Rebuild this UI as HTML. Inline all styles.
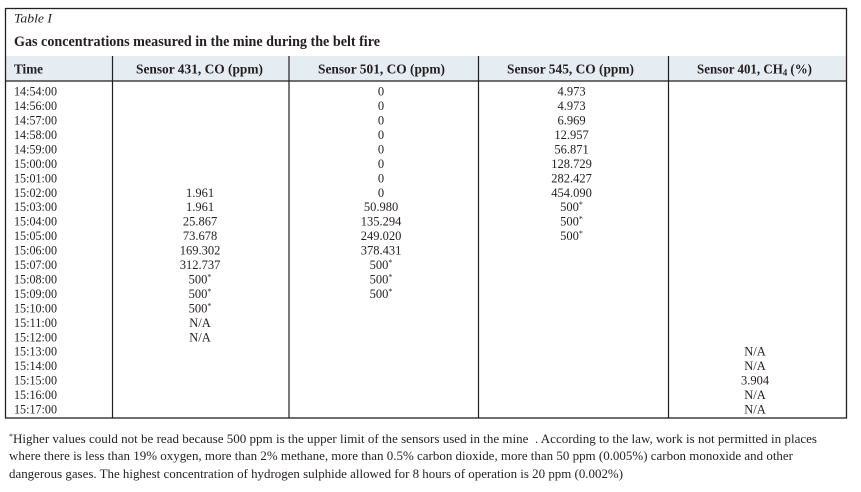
<!DOCTYPE html>
<html><head><meta charset="utf-8"><style>
html,body{margin:0;padding:0;background:#fff;}
svg{display:block;}
text{font-family:"Liberation Serif",serif;fill:#231f20;}
.d{font-size:12.5px;}
.h{font-size:13.5px;font-weight:bold;}
.f{font-size:13px;white-space:pre;}
</style></head><body>
<svg width="861" height="492" viewBox="0 0 861 492" xmlns="http://www.w3.org/2000/svg">
<rect x="0" y="0" width="861" height="492" fill="#fff"/>
<rect x="5" y="56" width="841" height="25" fill="#e5ecf2"/>
<rect x="5.5" y="8.5" width="841" height="409.5" fill="none" stroke="#231f20" stroke-width="1.3"/>
<line x1="5" y1="81" x2="846" y2="81" stroke="#231f20" stroke-width="1.3"/>
<g stroke="#231f20" stroke-width="1.2">
<line x1="112.5" y1="56" x2="112.5" y2="418"/>
<line x1="289" y1="56" x2="289" y2="418"/>
<line x1="478.5" y1="56" x2="478.5" y2="418"/>
<line x1="668.5" y1="56" x2="668.5" y2="418"/>
</g>
<text x="14" y="22.5" style="font-size:13px;font-style:italic" textLength="38" lengthAdjust="spacingAndGlyphs">Table I</text>
<text x="14" y="46" style="font-size:15px;font-weight:bold" textLength="366" lengthAdjust="spacingAndGlyphs">Gas concentrations measured in the mine during the belt fire</text>
<text class="h" x="14" y="73.5" textLength="29" lengthAdjust="spacingAndGlyphs">Time</text>
<text class="h" x="136" y="73.5" textLength="127" lengthAdjust="spacingAndGlyphs">Sensor 431, CO (ppm)</text>
<text class="h" x="318" y="73.5" textLength="127" lengthAdjust="spacingAndGlyphs">Sensor 501, CO (ppm)</text>
<text class="h" x="507" y="73.5" textLength="127" lengthAdjust="spacingAndGlyphs">Sensor 545, CO (ppm)</text>
<text class="h" x="697" y="73.5" textLength="115" lengthAdjust="spacingAndGlyphs">Sensor 401, CH<tspan style="font-size:9px" dy="2">4</tspan><tspan dy="-2"> (%)</tspan></text>

<g class="d">
<text x="14" y="95.6" textLength="43" lengthAdjust="spacingAndGlyphs">14:54:00</text>
<text x="14" y="110.05" textLength="43" lengthAdjust="spacingAndGlyphs">14:56:00</text>
<text x="14" y="124.5" textLength="43" lengthAdjust="spacingAndGlyphs">14:57:00</text>
<text x="14" y="138.95" textLength="43" lengthAdjust="spacingAndGlyphs">14:58:00</text>
<text x="14" y="153.4" textLength="43" lengthAdjust="spacingAndGlyphs">14:59:00</text>
<text x="14" y="167.85" textLength="43" lengthAdjust="spacingAndGlyphs">15:00:00</text>
<text x="14" y="182.3" textLength="43" lengthAdjust="spacingAndGlyphs">15:01:00</text>
<text x="14" y="196.75" textLength="43" lengthAdjust="spacingAndGlyphs">15:02:00</text>
<text x="14" y="211.2" textLength="43" lengthAdjust="spacingAndGlyphs">15:03:00</text>
<text x="14" y="225.65" textLength="43" lengthAdjust="spacingAndGlyphs">15:04:00</text>
<text x="14" y="240.1" textLength="43" lengthAdjust="spacingAndGlyphs">15:05:00</text>
<text x="14" y="254.55" textLength="43" lengthAdjust="spacingAndGlyphs">15:06:00</text>
<text x="14" y="269" textLength="43" lengthAdjust="spacingAndGlyphs">15:07:00</text>
<text x="14" y="283.45" textLength="43" lengthAdjust="spacingAndGlyphs">15:08:00</text>
<text x="14" y="297.9" textLength="43" lengthAdjust="spacingAndGlyphs">15:09:00</text>
<text x="14" y="312.35" textLength="43" lengthAdjust="spacingAndGlyphs">15:10:00</text>
<text x="14" y="326.8" textLength="43" lengthAdjust="spacingAndGlyphs">15:11:00</text>
<text x="14" y="341.25" textLength="43" lengthAdjust="spacingAndGlyphs">15:12:00</text>
<text x="14" y="355.7" textLength="43" lengthAdjust="spacingAndGlyphs">15:13:00</text>
<text x="14" y="370.15" textLength="43" lengthAdjust="spacingAndGlyphs">15:14:00</text>
<text x="14" y="384.6" textLength="43" lengthAdjust="spacingAndGlyphs">15:15:00</text>
<text x="14" y="399.05" textLength="43" lengthAdjust="spacingAndGlyphs">15:16:00</text>
<text x="14" y="413.5" textLength="43" lengthAdjust="spacingAndGlyphs">15:17:00</text>
</g>

<g class="d" text-anchor="middle">
<text x="200" y="196.75">1.961</text>
<text x="200" y="211.2">1.961</text>
<text x="200" y="225.65">25.867</text>
<text x="200" y="240.1">73.678</text>
<text x="200" y="254.55">169.302</text>
<text x="200" y="269">312.737</text>
<text x="200" y="283.45">500<tspan style="font-size:8px" dy="-4">*</tspan></text>
<text x="200" y="297.9">500<tspan style="font-size:8px" dy="-4">*</tspan></text>
<text x="200" y="312.35">500<tspan style="font-size:8px" dy="-4">*</tspan></text>
<text x="200" y="326.8">N/A</text>
<text x="200" y="341.25">N/A</text>
<text x="381" y="95.6">0</text>
<text x="381" y="110.05">0</text>
<text x="381" y="124.5">0</text>
<text x="381" y="138.95">0</text>
<text x="381" y="153.4">0</text>
<text x="381" y="167.85">0</text>
<text x="381" y="182.3">0</text>
<text x="381" y="196.75">0</text>
<text x="381" y="211.2">50.980</text>
<text x="381" y="225.65">135.294</text>
<text x="381" y="240.1">249.020</text>
<text x="381" y="254.55">378.431</text>
<text x="381" y="269">500<tspan style="font-size:8px" dy="-4">*</tspan></text>
<text x="381" y="283.45">500<tspan style="font-size:8px" dy="-4">*</tspan></text>
<text x="381" y="297.9">500<tspan style="font-size:8px" dy="-4">*</tspan></text>
<text x="571.5" y="95.6">4.973</text>
<text x="571.5" y="110.05">4.973</text>
<text x="571.5" y="124.5">6.969</text>
<text x="571.5" y="138.95">12.957</text>
<text x="571.5" y="153.4">56.871</text>
<text x="571.5" y="167.85">128.729</text>
<text x="571.5" y="182.3">282.427</text>
<text x="571.5" y="196.75">454.090</text>
<text x="571.5" y="211.2">500<tspan style="font-size:8px" dy="-4">*</tspan></text>
<text x="571.5" y="225.65">500<tspan style="font-size:8px" dy="-4">*</tspan></text>
<text x="571.5" y="240.1">500<tspan style="font-size:8px" dy="-4">*</tspan></text>
<text x="755" y="355.7">N/A</text>
<text x="755" y="370.15">N/A</text>
<text x="755" y="384.6">3.904</text>
<text x="755" y="399.05">N/A</text>
<text x="755" y="413.5">N/A</text>
</g>

<text class="f" x="9" y="443" textLength="808" lengthAdjust="spacingAndGlyphs"><tspan style="font-size:8px" dy="-4">*</tspan><tspan dy="4">Higher values could not be read because 500 ppm is the upper limit of the sensors used in the mine  . According to the law, work is not permitted in places</tspan></text>
<text class="f" x="9" y="460" textLength="784" lengthAdjust="spacingAndGlyphs">where there is less than 19% oxygen, more than 2% methane, more than 0.5% carbon dioxide, more than 50 ppm (0.005%) carbon monoxide and other</text>
<text class="f" x="9" y="478" textLength="614" lengthAdjust="spacingAndGlyphs">dangerous gases. The highest concentration of hydrogen sulphide allowed for 8 hours of operation is 20 ppm (0.002%)</text>
</svg>
</body></html>
